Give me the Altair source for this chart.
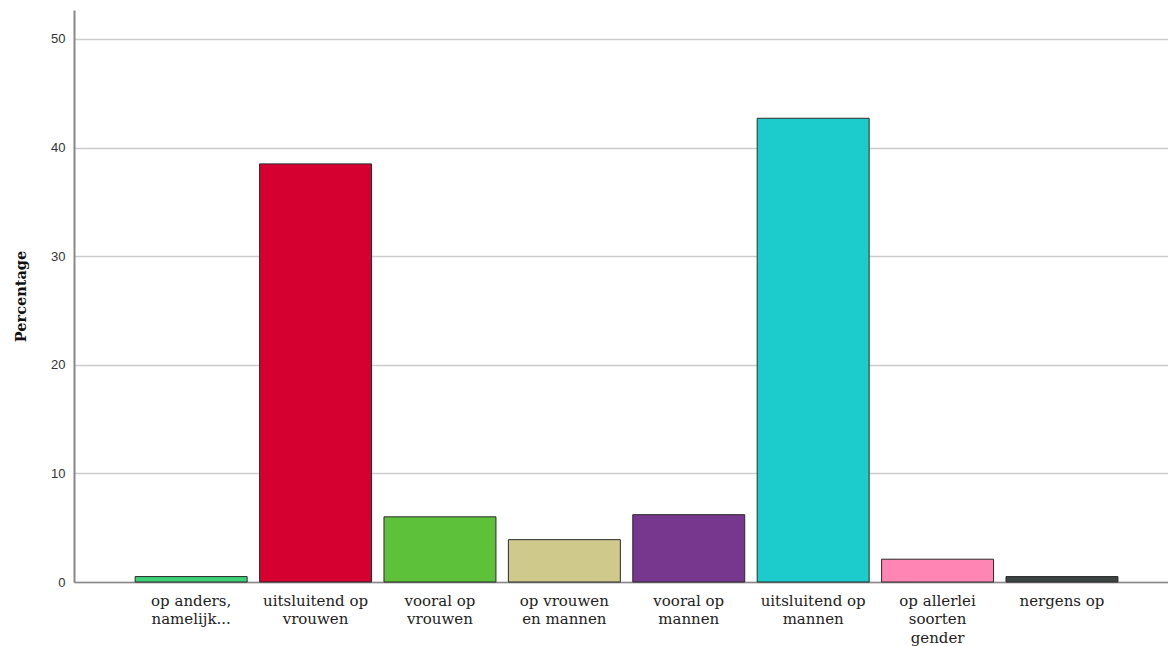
import altair as alt
import pandas as pd

categories = [
    "op anders,\nnamelijk...",
    "uitsluitend op\nvrouwen",
    "vooral op\nvrouwen",
    "op vrouwen\nen mannen",
    "vooral op\nmannen",
    "uitsluitend op\nmannen",
    "op allerlei\nsoorten\ngender",
    "nergens op",
]
percentages = [0.5, 38.5, 6.0, 3.9, 6.2, 42.7, 2.1, 0.5]
colors = ["#3dd178", "#d5002f", "#5dc13a", "#d0c98c", "#77378e", "#1ccccc", "#ff85b5", "#3c4543"]
y_ticks = [0, 10, 20, 30, 40, 50]

df = pd.DataFrame({"cat": categories, "pct": percentages})

chart = alt.Chart(df).mark_bar(stroke="#2b2b2b", strokeWidth=1).encode(
    x=alt.X(
        "cat:N",
        sort=categories,
        title=None,
        scale=alt.Scale(paddingInner=0.1, paddingOuter=0.447, align=0.55),
        axis=alt.Axis(
            labelAngle=0,
            labelExpr="split(datum.label, '\\n')",
            labelFont="DejaVu Serif",
            labelFontSize=15,
            labelColor="#222222",
            labelLineHeight=18.5,
            labelPadding=11,
            labelBaseline="top",
            ticks=False,
            domainColor="#888888",
            domainWidth=1.5,
            grid=False,
        ),
    ),
    y=alt.Y(
        "pct:Q",
        title="Percentage",
        scale=alt.Scale(domain=[0, 52.67], nice=False),
        axis=alt.Axis(
            values=y_ticks,
            ticks=False,
            labelFont="Liberation Sans",
            labelFontSize=13,
            labelColor="#333333",
            labelPadding=9,
            domainColor="#888888",
            domainWidth=2,
            gridColor="#cccccc",
            gridWidth=1.5,
            titleFont="DejaVu Serif",
            titleFontSize=14.5,
            titleFontWeight="bold",
            titleColor="#111111",
            titleX=-46,
            titleY=286,
            titleAngle=-90,
            titleBaseline="bottom",
        ),
    ),
    color=alt.Color(
        "cat:N",
        scale=alt.Scale(domain=categories, range=colors),
        legend=None,
    ),
).properties(
    width=1094,
    height=572,
    autosize=alt.AutoSizeParams(type="none"),
    padding={"left": 66, "top": 2, "right": 0, "bottom": 64},
).configure_view(stroke=None)

chart.save("out.html", embed_options={"renderer": "svg", "actions": False})
